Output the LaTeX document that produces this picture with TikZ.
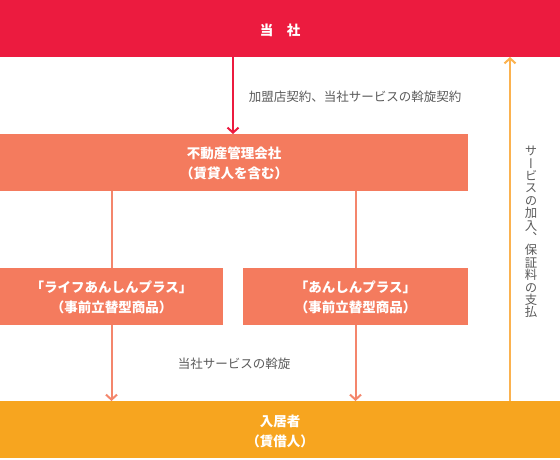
\documentclass[tikz,border=0pt]{standalone}
\usepackage{fontspec}
\setmainfont{Noto Sans CJK JP}
\newfontfamily\vjp[RawFeature=+vert]{Noto Sans CJK JP}
\usetikzlibrary{arrows.meta}
\definecolor{cred}{HTML}{EC1B3F}
\definecolor{csalmon}{HTML}{F47B5E}
\definecolor{cline}{HTML}{F4866C}
\definecolor{corange}{HTML}{F7A51F}
\definecolor{cyel}{HTML}{FBB24F}
\definecolor{ctext}{HTML}{5A5A5A}
\tikzset{
  band/.style={draw=none, inner sep=0pt, outer sep=0pt, anchor=north west},
  boxtext/.style={text=white, align=center, font=\fontsize{13.5}{20}\selectfont\bfseries},
  lbl/.style={text=ctext, inner sep=0pt, font=\fontsize{12.5}{14}\selectfont},
  conn/.style={line width=2pt, -{Straight Barb[length=5pt,width=11pt]}},
  plainline/.style={line width=2pt}
}
\begin{document}
\begin{tikzpicture}[x=1pt,y=-1pt]
\useasboundingbox (0,0) rectangle (560,460);
\fill[white] (0,0) rectangle (560,460);
% bands and boxes
\node[band, fill=cred, minimum width=560pt, minimum height=57pt] (top) at (0,0) {};
\node[band, fill=csalmon, minimum width=468pt, minimum height=57pt] (mid) at (0,134) {};
\node[band, fill=csalmon, minimum width=223pt, minimum height=57pt] (lbox) at (0,268) {};
\node[band, fill=csalmon, minimum width=225pt, minimum height=57pt] (rbox) at (243,268) {};
\node[band, fill=corange, minimum width=560pt, minimum height=57pt] (bot) at (0,401) {};
% texts
\node[boxtext] (toptxt) at (280,30) {当　社};
\node[boxtext] (midtxt) at (234,163) {不動産管理会社\\（賃貸人を含む）};
\node[boxtext] (ltxt) at (111.5,297) {「ライフあんしんプラス」\\（事前立替型商品）};
\node[boxtext] (rtxt) at (355.5,297) {「あんしんプラス」\\（事前立替型商品）};
\node[boxtext] (bottxt) at (280,431) {入居者\\（賃借人）};
% helper coordinates
\coordinate (xa) at (233,0);
\coordinate (xy) at (510,0);
% connectors
\draw[conn, cred] (top.south -| xa) -- (mid.north -| xa);
\draw[plainline, cline] (mid.south -| lbox.north) -- (lbox.north);
\draw[plainline, cline] (mid.south -| rbox.north) -- (rbox.north);
\draw[conn, cline] (lbox.south) -- (bot.north -| lbox.south);
\draw[conn, cline] (rbox.south) -- (bot.north -| rbox.south);
\draw[conn, cyel] (bot.north -| xy) -- (top.south -| xy);
% labels
\node[lbl] (l1) at (355,97) {加盟店契約、当社サービスの斡旋契約};
\node[lbl] (l2) at (234,364) {当社サービスの斡旋};
\node[lbl, align=center, font=\vjp\fontsize{12.4}{12.4}\selectfont] (l3) at (531,232) {サ\\ー\\ビ\\ス\\の\\加\\入\\、\\保\\証\\料\\の\\支\\払};
\end{tikzpicture}
\end{document}
